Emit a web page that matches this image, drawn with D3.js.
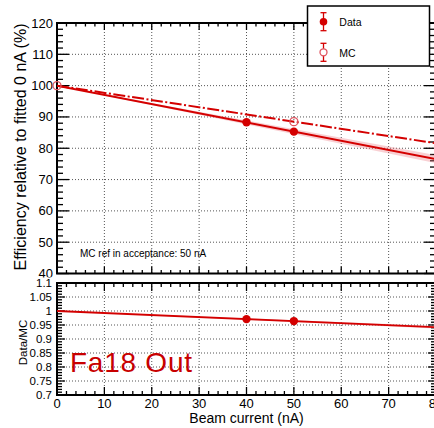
<!DOCTYPE html>
<html><head><meta charset="utf-8">
<script src="https://cdn.jsdelivr.net/npm/d3@7"></script>
<style>
html,body{margin:0;padding:0;background:#fff;}
svg{display:block;font-family:"Liberation Sans",Arial,Helvetica,sans-serif;}
</style></head>
<body>
<svg id="c" width="434" height="428"></svg>
<script>
// ---- data ----
const dataX = [40, 50];
const dataY = [88.3, 85.3];
const mcX = [0, 50];
const mcY = [100, 88.5];
const fitX = [0, 80];
const dataFit = [100, 76.5];
const dataBandLo = [100, 75.2];
const dataBandHi = [100, 77.8];
const mcFit = [100, 81.6];
const ratioX = [40, 50];
const ratioY = [0.971, 0.964];
const ratioFit = [1.0, 0.942];
const ratioBandLo = [1.0, 0.937];
const ratioBandHi = [1.0, 0.947];
const xTicks = [0, 10, 20, 30, 40, 50, 60, 70, 80];
const yTopTicks = [40, 50, 60, 70, 80, 90, 100, 110, 120];
const yBotTicks = [0.7, 0.75, 0.8, 0.85, 0.9, 0.95, 1, 1.05, 1.1];
const yBotLabels = ["0.7", "0.75", "0.8", "0.85", "0.9", "0.95", "1", "1.05", "1.1"];
const legendLabels = ["Data", "MC"];

const RED = "#d40000";
const PINK = "rgba(235,120,130,0.35)";
const MCRED = "#e05560";
const svg = d3.select("#c");

const x = d3.scaleLinear().domain([0, 80]).range([57, 436]);
const yT = d3.scaleLinear().domain([40, 120]).range([273.5, 23]);
const yB = d3.scaleLinear().domain([0.7, 1.1]).range([395, 283]);

function grid(yScale, yVals) {
  const g = svg.append("g").attr("stroke", "#555").attr("stroke-width", 1).attr("stroke-dasharray", "1,2");
  xTicks.slice(1, -1).forEach(v => g.append("line").attr("x1", x(v)).attr("x2", x(v)).attr("y1", yScale.range()[1]).attr("y2", yScale.range()[0]));
  yVals.slice(1, -1).forEach(v => g.append("line").attr("x1", 57).attr("x2", 436).attr("y1", yScale(v)).attr("y2", yScale(v)));
}

function ticks(yScale, yMaj, yMin, yMajLen, yMinLen, xMajLen, xMinLen) {
  const g = svg.append("g").attr("stroke", "#000").attr("stroke-width", 1.3);
  const y0 = yScale.range()[0], y1 = yScale.range()[1];
  const xMinor = d3.range(0, 80.001, 2);
  xMinor.forEach(v => {
    const L = (Math.abs(v % 10) < 1e-6) ? xMajLen : xMinLen;
    g.append("line").attr("x1", x(v)).attr("x2", x(v)).attr("y1", y0).attr("y2", y0 - L);
    g.append("line").attr("x1", x(v)).attr("x2", x(v)).attr("y1", y1).attr("y2", y1 + L);
  });
  const d = yScale.domain();
  const n = Math.round((d[1] - d[0]) / yMin);
  for (let i = 0; i <= n; i++) {
    const v = d[0] + i * yMin;
    const isMaj = Math.abs((v - d[0]) / yMaj - Math.round((v - d[0]) / yMaj)) < 1e-6;
    const L = isMaj ? yMajLen : yMinLen;
    g.append("line").attr("x1", 57).attr("x2", 57 + L).attr("y1", yScale(v)).attr("y2", yScale(v));
    g.append("line").attr("x1", 436).attr("x2", 436 - L).attr("y1", yScale(v)).attr("y2", yScale(v));
  }
}

// ===== top pad =====
grid(yT, yTopTicks);
ticks(yT, 10, 2, 12, 6, 7, 3.5);
svg.append("rect").attr("x", 57).attr("y", 23).attr("width", 379).attr("height", 250.5).attr("fill", "none").attr("stroke", "#000").attr("stroke-width", 2);
const tl = svg.append("g").attr("font-size", 13).attr("fill", "#000");
yTopTicks.forEach(v => tl.append("text").attr("x", 53).attr("y", yT(v) + 4.5).attr("text-anchor", "end").text(v));
svg.append("text").attr("transform", "translate(26,147) rotate(-90)").attr("text-anchor", "middle").attr("font-size", 16).text("Efficiency relative to fitted 0 nA (%)");

const defs = svg.append("defs");
defs.append("clipPath").attr("id", "clipT").append("rect").attr("x", 57).attr("y", 23).attr("width", 379).attr("height", 250.5);
defs.append("clipPath").attr("id", "clipB").append("rect").attr("x", 57).attr("y", 283).attr("width", 379).attr("height", 112);

const gTop = svg.append("g").attr("clip-path", "url(#clipT)");
const band = d3.area().x((d, i) => x(fitX[i])).y0((d, i) => yT(dataBandLo[i])).y1((d, i) => yT(dataBandHi[i]));
gTop.append("path").datum(fitX).attr("d", band).attr("fill", PINK);
const lineT = arr => d3.line().x((d, i) => x(fitX[i])).y((d, i) => yT(arr[i]))(fitX);
gTop.append("path").attr("d", lineT(mcFit)).attr("fill", "none").attr("stroke", RED).attr("stroke-width", 2).attr("stroke-dasharray", "12,2.5,2,2.5");
gTop.append("path").attr("d", lineT(dataFit)).attr("fill", "none").attr("stroke", RED).attr("stroke-width", 2);

const gMk = svg.append("g");
mcX.forEach((v, i) => gMk.append("circle").attr("cx", x(v)).attr("cy", yT(mcY[i])).attr("r", 4).attr("fill", "none").attr("stroke", MCRED).attr("stroke-width", 1.3));
dataX.forEach((v, i) => gMk.append("circle").attr("cx", x(v)).attr("cy", yT(dataY[i])).attr("r", 4.2).attr("fill", RED));

svg.append("text").attr("x", 80).attr("y", 256.5).attr("font-size", 10).attr("fill", "#000").text("MC ref in acceptance: 50 nA");

// legend
svg.append("rect").attr("x", 307.5).attr("y", 6).attr("width", 122).attr("height", 60).attr("fill", "#fff").attr("stroke", "#000").attr("stroke-width", 1.5);
const leg = svg.append("g");
const legY = [21.7, 52.3];
legendLabels.forEach((lab, i) => {
  const cx = 323.5, cy = legY[i];
  leg.append("line").attr("x1", cx).attr("x2", cx).attr("y1", cy - 9).attr("y2", cy + 9).attr("stroke", RED).attr("stroke-width", 1.3);
  leg.append("line").attr("x1", cx - 3).attr("x2", cx + 3).attr("y1", cy - 9).attr("y2", cy - 9).attr("stroke", RED).attr("stroke-width", 1.3);
  leg.append("line").attr("x1", cx - 3).attr("x2", cx + 3).attr("y1", cy + 9).attr("y2", cy + 9).attr("stroke", RED).attr("stroke-width", 1.3);
  if (i === 0) leg.append("circle").attr("cx", cx).attr("cy", cy).attr("r", 3.8).attr("fill", RED);
  else leg.append("circle").attr("cx", cx).attr("cy", cy).attr("r", 3.5).attr("fill", "#fff").attr("stroke", MCRED).attr("stroke-width", 1.3);
  leg.append("text").attr("x", 339.3).attr("y", cy + 4.5).attr("font-size", 10.5).attr("fill", "#000").text(lab);
});

// ===== bottom pad (drawn over the top pad's lower edge) =====
svg.append("rect").attr("x", 0).attr("y", 277.5).attr("width", 434).attr("height", 150.5).attr("fill", "#fff");
grid(yB, yBotTicks);
ticks(yB, 0.05, 0.01, 8, 5, 8, 4);
svg.append("rect").attr("x", 57).attr("y", 283).attr("width", 379).attr("height", 112).attr("fill", "none").attr("stroke", "#000").attr("stroke-width", 2);
const bl = svg.append("g").attr("font-size", 11.5).attr("fill", "#000");
yBotTicks.forEach((v, i) => bl.append("text").attr("x", 52).attr("y", yB(v) + 4.2).attr("text-anchor", "end").text(yBotLabels[i]));
const xl = svg.append("g").attr("font-size", 13).attr("fill", "#000");
xTicks.forEach(v => xl.append("text").attr("x", x(v)).attr("y", 408).attr("text-anchor", "middle").text(v));
svg.append("text").attr("transform", "translate(26.5,342.5) rotate(-90)").attr("text-anchor", "middle").attr("font-size", 11.5).text("Data/MC");
svg.append("text").attr("x", 246.5).attr("y", 423).attr("text-anchor", "middle").attr("font-size", 14).text("Beam current (nA)");

const gBot = svg.append("g").attr("clip-path", "url(#clipB)");
const bandB = d3.area().x((d, i) => x(fitX[i])).y0((d, i) => yB(ratioBandLo[i])).y1((d, i) => yB(ratioBandHi[i]));
gBot.append("path").datum(fitX).attr("d", bandB).attr("fill", PINK);
gBot.append("path").attr("d", d3.line().x((d, i) => x(fitX[i])).y((d, i) => yB(ratioFit[i]))(fitX)).attr("fill", "none").attr("stroke", RED).attr("stroke-width", 1.8);
ratioX.forEach((v, i) => gBot.append("circle").attr("cx", x(v)).attr("cy", yB(ratioY[i])).attr("r", 4.2).attr("fill", RED));

svg.append("text").attr("x", 70).attr("y", 372.3).attr("font-size", 28).attr("fill", "#c80000").attr("textLength", 122).attr("lengthAdjust", "spacing").text("Fa18 Out");
</script>
</body></html>
